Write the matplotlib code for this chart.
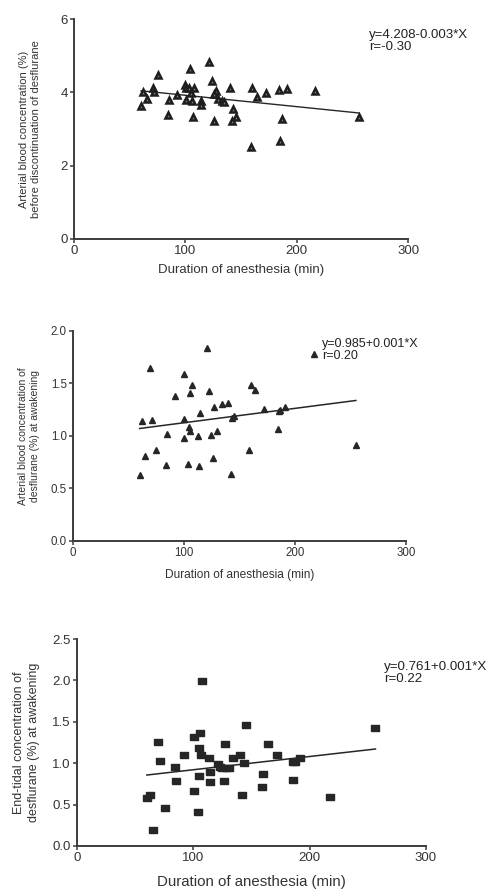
import numpy as np
from matplotlib import pyplot as plt

plt.rcParams['font.family'] = ['Liberation Sans', 'DejaVu Sans']

# panel 1: arterial concentration before discontinuation
dur1 = [60.2, 62.3, 65.9, 70.7, 71.9, 75.1, 84.1, 85.6, 92.2, 99.7, 100.6, 100.3,
        104.2, 103.6, 104.8, 106.3, 106.6, 107.8, 113.8, 114.4, 121.3, 123.7,
        125.7, 127.2, 125.7, 129.6, 133.2, 135.0, 140.1, 143.1, 145.2, 142.2,
        158.7, 159.6, 164.1, 172.2, 184.4, 185.0, 186.8, 191.3, 216.8, 256.0]
conc1 = [3.63, 4.00, 3.83, 4.13, 4.00, 4.48, 3.39, 3.79, 3.94, 4.19, 4.11, 3.80,
         4.64, 4.12, 3.98, 3.77, 3.32, 4.12, 3.77, 3.66, 4.84, 4.32,
         3.21, 4.04, 3.95, 3.82, 3.77, 3.74, 4.11, 3.54, 3.32, 3.21,
         2.51, 4.11, 3.86, 3.98, 4.07, 2.66, 3.28, 4.09, 4.03, 3.32]

# panel 2: arterial concentration at awakening
dur2 = [60.0, 61.9, 65.2, 69.7, 70.9, 75.1, 84.1, 85.0, 91.9, 99.7, 99.7, 100.0,
        103.6, 104.8, 105.1, 105.7, 106.9, 112.9, 114.1, 113.8, 122.8, 120.7,
        124.6, 125.8, 127.0, 130.0, 133.9, 139.9, 142.0, 142.9, 144.7, 158.8,
        160.0, 163.9, 171.8, 184.7, 185.3, 186.8, 191.0, 217.1, 254.7]
conc2 = [0.63, 1.14, 0.81, 1.65, 1.15, 0.87, 0.72, 1.02, 1.38, 1.59, 1.16, 0.98,
         0.73, 1.09, 1.05, 1.41, 1.49, 1.00, 1.22, 0.71, 1.43, 1.84,
         1.01, 0.79, 1.28, 1.05, 1.30, 1.31, 0.64, 1.17, 1.19, 0.87,
         1.49, 1.44, 1.26, 1.07, 1.24, 1.25, 1.28, 1.78, 0.91]

# panel 3: end-tidal concentration at awakening
dur3 = [60.1, 62.6, 65.2, 70.1, 71.3, 75.3, 84.2, 85.1, 92.0, 100.3, 100.6, 104.3,
        104.9, 105.2, 106.0, 106.3, 107.5, 113.5, 114.1, 114.4, 121.3, 123.0,
        125.0, 126.4, 127.0, 127.9, 130.7, 133.9, 140.2, 142.0, 143.4, 145.1,
        159.5, 160.3, 164.4, 172.1, 185.3, 185.3, 187.4, 191.4, 217.2, 256.6]
conc3 = [0.58, 0.61, 0.19, 1.26, 1.03, 0.46, 0.96, 0.78, 1.10, 1.32, 0.67, 0.41,
         1.18, 0.85, 1.36, 1.10, 1.99, 1.06, 0.89, 0.77, 0.99, 0.96,
         0.94, 0.79, 1.23, 0.94, 0.94, 1.06, 1.10, 0.62, 1.00, 1.46,
         0.71, 0.87, 1.23, 1.10, 0.80, 1.01, 1.01, 1.06, 0.59, 1.42]

# regression lines (intercept, slope) as drawn in the figure
fit1 = (4.23, -0.0031)
fit2 = (0.989, 0.00137)
fit3 = (0.761, 0.0016)

eq_text = ["y=4.208-0.003*X\nr=-0.30",
           "y=0.985+0.001*X\nr=0.20",
           "y=0.761+0.001*X\nr=0.22"]
ylabels = ["Arterial blood concentration (%)\nbefore discontinuation of desflurane",
           "Arterial blood concentration of\ndesflurane (%) at awakening",
           "End-tidal concentration of\ndesflurane (%) at awakening"]
xlabel = "Duration of anesthesia (min)"

INK = '#262626'
TXT = '#333333'


def style_axes(ax, yticks, ylim, fs):
	for s in ['top', 'right']:
		ax.spines[s].set_visible(False)
	for s in ['left', 'bottom']:
		ax.spines[s].set_color('#3c3c3c')
		ax.spines[s].set_linewidth(1.4)
	ax.set_xlim(0, 300)
	ax.set_ylim(*ylim)
	ax.set_xticks([0, 100, 200, 300])
	ax.set_yticks(yticks)
	ax.tick_params(direction='out', length=3, width=1.1, color='#3c3c3c',
	               labelsize=fs, labelcolor=TXT, pad=1.5)


fig = plt.figure(figsize=(4.87, 8.94), dpi=100)

# panel 1
ax1 = fig.add_axes([0.152, 0.7327, 0.686, 0.246])
ax1.plot(dur1, conc1, linestyle='none', marker='^', markersize=4.8,
         markerfacecolor='#8c8c8c', markeredgecolor='#1e1e1e', markeredgewidth=1.8,
         clip_on=False, zorder=3)
xs = np.array([min(dur1), max(dur1)])
ax1.plot(xs, fit1[0] + fit1[1] * xs, color=INK, lw=1.0, zorder=2)
style_axes(ax1, [0, 2, 4, 6], (0, 6), 9.5)
ax1.set_yticklabels(['0', '2', '4', '6'])
ax1.set_xlabel(xlabel, fontsize=9.5, color=TXT, labelpad=5)
ax1.set_ylabel(ylabels[0], fontsize=8, color=TXT, labelpad=14, linespacing=1.2)
fig.text(369 / 487, 1 - 41 / 894, eq_text[0], fontsize=9.5, color='#222222',
         va='center', ha='left', linespacing=1.0)

# panel 2
ax2 = fig.add_axes([0.150, 0.3949, 0.684, 0.2349])
ax2.plot(dur2, conc2, linestyle='none', marker='^', markersize=4.2,
         markerfacecolor=INK, markeredgecolor=INK, clip_on=False, zorder=3)
xs = np.array([min(dur2), max(dur2)])
ax2.plot(xs, fit2[0] + fit2[1] * xs, color=INK, lw=1.1, zorder=2)
style_axes(ax2, [0, 0.5, 1.0, 1.5, 2.0], (0, 2.0), 8.3)
ax2.set_yticklabels(['0.0', '0.5', '1.0', '1.5', '2.0'])
ax2.set_xlabel(xlabel, fontsize=8.6, color=TXT, labelpad=7)
ax2.set_ylabel(ylabels[1], fontsize=7.5, color=TXT, labelpad=8, linespacing=1.25)
fig.text(322 / 487, 1 - 350 / 894, eq_text[1], fontsize=9, color='#222222',
         va='center', ha='left', linespacing=1.0)

# panel 3
rect = [(-1, -0.72), (1, -0.72), (1, 0.72), (-1, 0.72), (-1, -0.72)]
ax3 = fig.add_axes([0.158, 0.0537, 0.7166, 0.2315])
ax3.plot(dur3, conc3, linestyle='none', marker=rect, markersize=5.2,
         markerfacecolor=INK, markeredgecolor=INK, clip_on=False, zorder=3)
xs = np.array([min(dur3), max(dur3)])
ax3.plot(xs, fit3[0] + fit3[1] * xs, color=INK, lw=1.1, zorder=2)
style_axes(ax3, [0, 0.5, 1.0, 1.5, 2.0, 2.5], (0, 2.5), 9.5)
ax3.set_yticklabels(['0.0', '0.5', '1.0', '1.5', '2.0', '2.5'])
ax3.set_xlabel(xlabel, fontsize=10.8, color=TXT, labelpad=8)
ax3.set_ylabel(ylabels[2], fontsize=9, color=TXT, labelpad=9, linespacing=1.25)
fig.text(384 / 487, 1 - 673 / 894, eq_text[2], fontsize=9.6, color='#222222',
         va='center', ha='left', linespacing=1.0)

plt.savefig('out.png', dpi=100)
